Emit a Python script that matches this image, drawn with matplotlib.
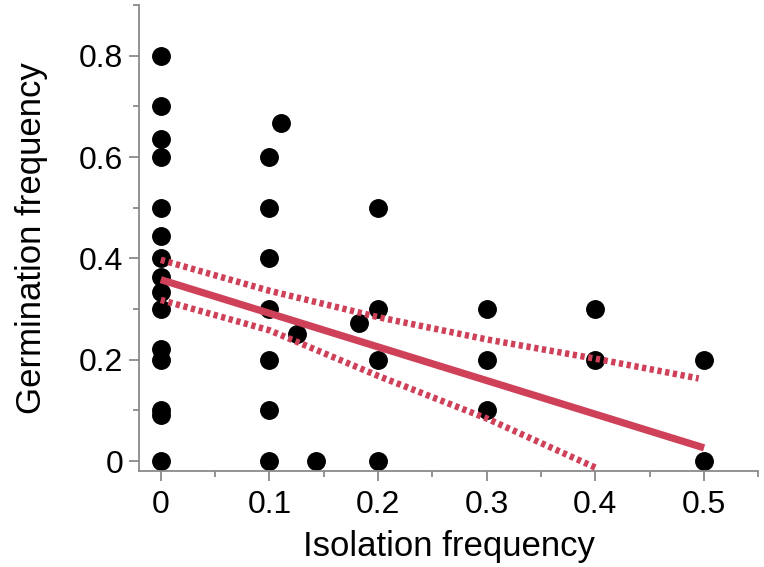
import matplotlib.pyplot as plt
import numpy as np

plt.rcParams['font.family'] = ['Liberation Sans', 'DejaVu Sans']

# scatter data (isolation vs germination frequency)
iso = [0]*15 + [0.1]*7 + [0.111, 0.125, 0.143, 0.182] + [0.2]*4 + [0.3]*3 + [0.4]*2 + [0.5]*2
germ = [0.8, 0.7, 0.636, 0.6, 0.5, 0.444, 0.4, 0.364, 0.333, 0.3, 0.222, 0.2, 0.1, 0.091, 0.0,
        0.6, 0.5, 0.4, 0.3, 0.2, 0.1, 0.0,
        0.667, 0.25, 0.0, 0.273,
        0.5, 0.3, 0.2, 0.0,
        0.3, 0.2, 0.1,
        0.3, 0.2,
        0.2, 0.0]

# fitted line and confidence band
fit_x = [0, 0.5]
fit_y = [0.358, 0.026]
upper_x = [0, 0.1, 0.2, 0.3, 0.4, 0.495]
upper_y = [0.397, 0.336, 0.284, 0.240, 0.202, 0.163]
lower_x = [0, 0.1, 0.2, 0.3, 0.4]
lower_y = [0.318, 0.258, 0.168, 0.084, -0.013]

red = '#cf4059'
gray = '#8a8a8a'

fig = plt.figure(figsize=(7.64, 5.67), dpi=100)
ax = fig.add_axes([0.182, 0.169, 0.8107, 0.8222])

ax.scatter(iso, germ, s=185, color='black', zorder=2, linewidths=0)
ax.plot(fit_x, fit_y, color=red, lw=5.2, solid_capstyle='butt', zorder=3)
for bx, by in [(upper_x, upper_y), (lower_x, lower_y)]:
    ax.plot(bx, by, color=red, lw=4.7, dashes=(0.65, 0.55), dash_capstyle='butt', zorder=3)

ax.set_xlim(-0.02, 0.55)
ax.set_ylim(-0.02, 0.9)
ax.set_xticks([0, 0.1, 0.2, 0.3, 0.4, 0.5])
ax.set_xticklabels(['0', '0.1', '0.2', '0.3', '0.4', '0.5'])
ax.set_xticks(np.arange(0.05, 0.56, 0.1), minor=True)
ax.set_yticks([0, 0.2, 0.4, 0.6, 0.8])
ax.set_yticklabels(['0', '0.2', '0.4', '0.6', '0.8'])
ax.set_yticks([0.1, 0.3, 0.5, 0.7, 0.9], minor=True)

for s in ['top', 'right']:
    ax.spines[s].set_visible(False)
for s in ['left', 'bottom']:
    ax.spines[s].set_color(gray)
    ax.spines[s].set_linewidth(1.3)

ax.tick_params(which='major', length=7.5, width=1.3, color=gray, labelsize=23)
ax.tick_params(axis='x', which='major', pad=6)
ax.tick_params(axis='y', which='major', pad=4)
ax.tick_params(which='minor', length=4, width=1.3, color=gray)

ax.set_xlabel('Isolation frequency', fontsize=25, labelpad=7)
ax.set_ylabel('Germination frequency', fontsize=25, labelpad=22)

fig.savefig('out.png', dpi=100)
